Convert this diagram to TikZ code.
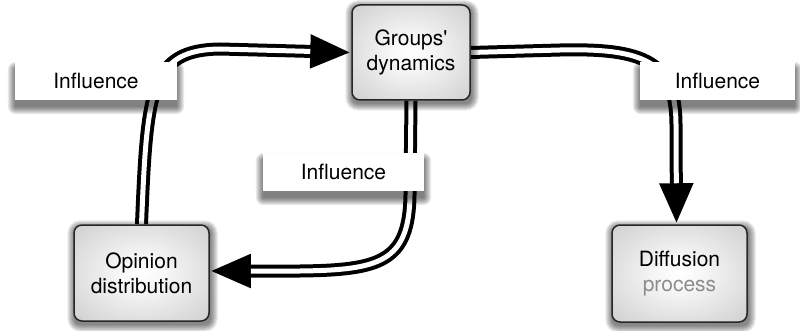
\documentclass[tikz,border=0pt]{standalone}
\usepackage{fontspec}
\setmainfont{TeX Gyre Heros}
\usetikzlibrary{arrows.meta,calc}
\pgfdeclareradialshading{boxshade}{\pgfpoint{0bp}{0bp}}{color(0bp)=(white); color(8bp)=(white!97!black); color(50bp)=(black!27); color(72bp)=(black!50)}
\pgfdeclarelayer{bg}
\pgfdeclarelayer{shadow}
\pgfsetlayers{bg,shadow,main}
\newcommand\dblconn[1]{%
  \draw[connouter] #1;
  \draw[conninner] #1;}
\newcommand\softshadow[5]{% node, xshift, yshift, base radius, opacity
  \foreach \i in {0,...,7}{%
    \fill[black, fill opacity=#5, rounded corners={#4+\i*1pt}]
      ($(#1.north west)+(#2-\i,#3-\i)$) rectangle ($(#1.south east)+(#2+\i,#3+\i)$);}}
\begin{document}
\begin{tikzpicture}[x=1pt,y=-1pt,
  box/.style={draw=black!85, line width=1.5pt, rounded corners=8pt, shading=boxshade,
    inner sep=0pt, align=center, font=\fontsize{21}{25}\selectfont},
  lab/.style={fill=white, inner sep=0pt, minimum height=38pt,
    font=\fontsize{21}{25}\selectfont},
  connouter/.style={line width=13pt, black, -{Triangle[length=41pt,width=31pt]}},
  conninner/.style={line width=5pt, white, shorten >=41pt}]
\useasboundingbox (0,0) rectangle (800,331);

\node[box, minimum width=118pt, minimum height=95pt] (G) at (411,52.5) {Groups\textquotesingle\\dynamics};
\node[box, minimum width=135pt, minimum height=96pt] (O) at (141.5,273) {Opinion\\distribution};
\node[box, minimum width=135pt, minimum height=97pt] (D) at (679.5,273.5) {Diffusion\\\textcolor{black!45}{process}};

\coordinate (Oin) at ($(O.east)+(0,-2)$);
\coordinate (Din) at ($(D.north)+(-3,0)$);

\begin{pgfonlayer}{bg}
\fill[white] (0,0) rectangle (800,331);
\dblconn{(O.north) .. controls (147,90) and (150,50) .. (220,49) -- (G.west)}
\dblconn{(G.south) -- (410,195) .. controls (409,262) and (380,270) .. (300,271) -- (Oin)}
\dblconn{(G.east) -- (560,50) .. controls (645,48) and (676,62) .. (676,125) -- (Din)}
\end{pgfonlayer}

\node[lab, minimum width=162pt] (L1) at (96,81) {Influence};
\node[lab, minimum width=161pt] (L2) at (343.5,172) {Influence};
\node[lab, minimum width=155pt] (L3) at (717.5,81) {Influence};

\begin{pgfonlayer}{shadow}
\softshadow{G}{1}{3}{6pt}{0.075}
\softshadow{O}{1}{3}{6pt}{0.075}
\softshadow{D}{1}{3}{6pt}{0.075}
\softshadow{L1}{0}{7}{1pt}{0.08}
\softshadow{L2}{0}{7}{1pt}{0.08}
\softshadow{L3}{0}{7}{1pt}{0.08}
\end{pgfonlayer}
\end{tikzpicture}
\end{document}
